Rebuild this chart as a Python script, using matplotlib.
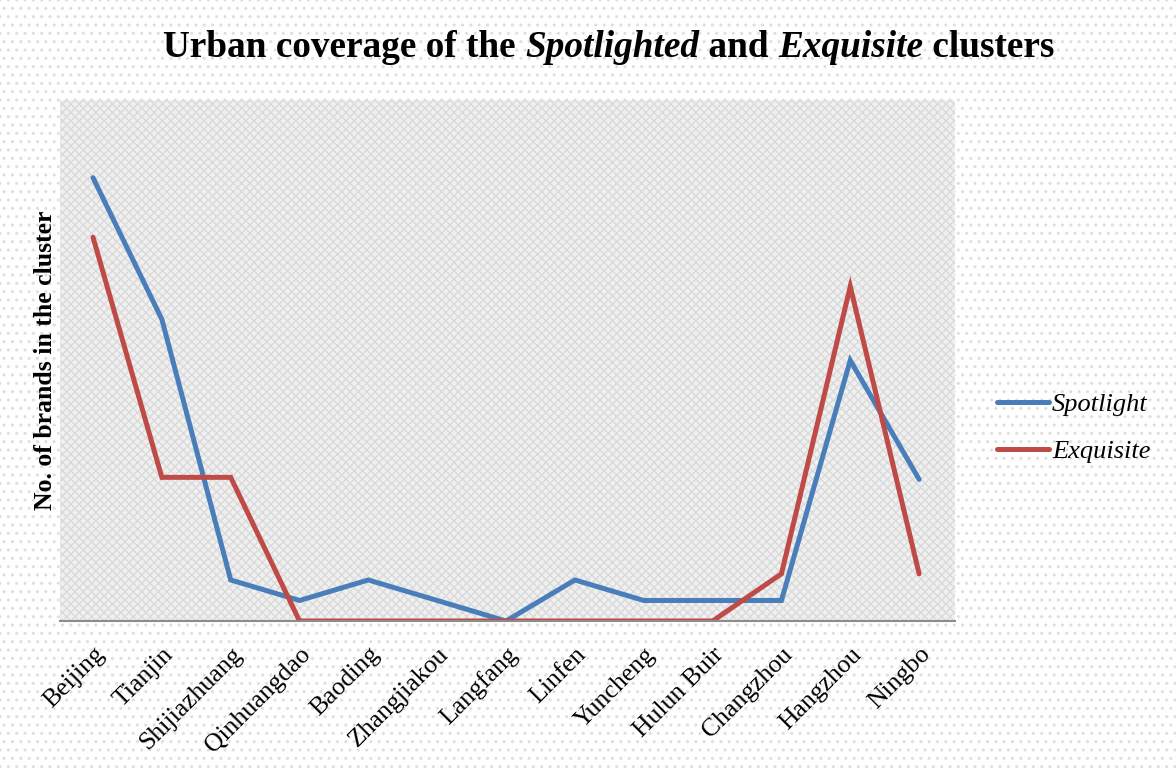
import matplotlib.pyplot as plt
from matplotlib.patches import Rectangle
from matplotlib.offsetbox import TextArea, HPacker, AnnotationBbox

cities = ['Beijing', 'Tianjin', 'Shijiazhuang', 'Qinhuangdao', 'Baoding',
          'Zhangjiakou', 'Langfang', 'Linfen', 'Yuncheng', 'Hulun Buir',
          'Changzhou', 'Hangzhou', 'Ningbo']
spotlight = [21.6, 14.7, 2, 1, 2, 1, 0, 2, 1, 1, 1, 12.7, 6.9]
exquisite = [18.7, 7, 7, 0, 0, 0, 0, 0, 0, 0, 2.3, 16.3, 2.3]

plt.rcParams['font.family'] = ['Liberation Serif', 'DejaVu Serif']
plt.rcParams['hatch.linewidth'] = 1.0

fig = plt.figure(figsize=(11.76, 7.7), dpi=100)
fig.patches.append(Rectangle((0, 0), 1, 1, transform=fig.transFigure,
                             facecolor='white', edgecolor='#dedede',
                             hatch='..', linewidth=0, zorder=-10))

ax = fig.add_axes([0.051, 0.1935, 0.761, 0.677])
ax.patch.set_facecolor('#f0f0f0')
ax.patch.set_edgecolor('#dadada')
ax.patch.set_hatch('xxxx')
ax.patch.set_linewidth(0)

x = range(len(cities))
ax.plot(x, spotlight, color='#4A7EBB', lw=3.6, solid_capstyle='round',
        solid_joinstyle='miter', label='Spotlight')
ax.plot(x, exquisite, color='#BE4B48', lw=3.6, solid_capstyle='round',
        solid_joinstyle='miter', label='Exquisite')

ax.set_xlim(-0.48, 12.52)
ax.set_ylim(0, 25.4)
ax.set_yticks([])
ax.set_xticks(list(x))
ax.set_xticklabels(cities, rotation=45, ha='right', rotation_mode='anchor',
                   fontsize=18.5)
ax.tick_params(axis='x', length=0, pad=16)
for s in ['top', 'right', 'left']:
    ax.spines[s].set_visible(False)
ax.spines['bottom'].set_color('#8c8c8c')
ax.spines['bottom'].set_linewidth(1.5)

ax.set_ylabel('No. of brands in the cluster', fontsize=18.5, fontweight='bold',
              labelpad=2)

leg = ax.legend(loc='center left', bbox_to_anchor=(1.02, 0.37), frameon=False,
                prop={'style': 'italic', 'size': 19}, handlelength=2.0,
                handletextpad=0.1, labelspacing=0.9)

# title with italic words
parts = [('Urban coverage of the ', 'normal'), ('Spotlighted', 'italic'),
         (' and ', 'normal'), ('Exquisite', 'italic'), (' clusters', 'normal')]
areas = [TextArea(t, textprops=dict(fontsize=26.8, fontweight='bold', fontstyle=st))
         for t, st in parts]
box = HPacker(children=areas, align='baseline', pad=0, sep=0)
ab = AnnotationBbox(box, (0.518, 0.938), xycoords='figure fraction',
                    frameon=False, box_alignment=(0.5, 0.5))
fig.add_artist(ab)

fig.savefig('out.png', dpi=100)
